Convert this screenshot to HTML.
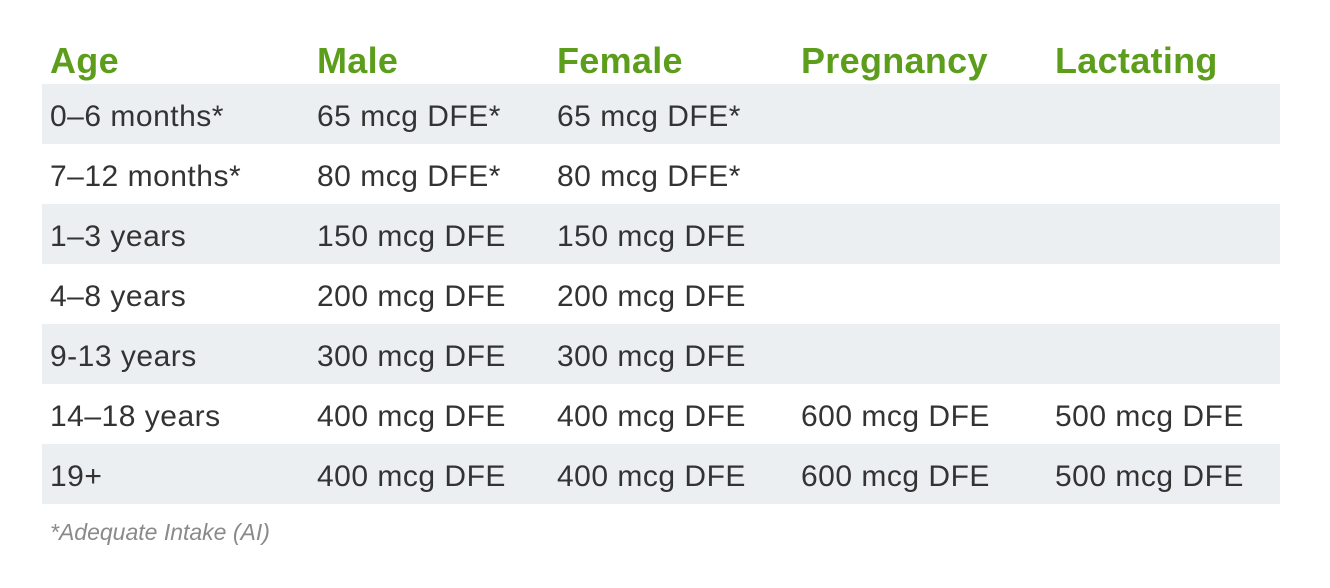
<!DOCTYPE html>
<html><head><meta charset="utf-8"><style>
html,body{margin:0;padding:0;background:#fff;width:1330px;height:588px;overflow:hidden;position:relative;font-family:"Liberation Sans",sans-serif;}
.row{position:absolute;left:42px;width:1238px;height:60px;}
.g{background:#eceff2;}
.t{position:absolute;font-size:30px;color:#333;letter-spacing:0.5px;line-height:1;white-space:nowrap;}
.h{position:absolute;font-size:36px;font-weight:bold;color:#5c9e1c;line-height:1;white-space:nowrap;letter-spacing:0.3px;}
.f{position:absolute;left:50px;top:521px;font-size:23px;font-style:italic;color:#8a8a8a;line-height:1;}
</style></head><body>
<div class="row g" style="top:84px"></div>
<div class="row g" style="top:204px"></div>
<div class="row g" style="top:324px"></div>
<div class="row g" style="top:444px"></div>

<div class="h" style="left:50px;top:43px">Age</div>
<div class="h" style="left:317px;top:43px">Male</div>
<div class="h" style="left:557px;top:43px">Female</div>
<div class="h" style="left:801px;top:43px">Pregnancy</div>
<div class="h" style="left:1055px;top:43px">Lactating</div>

<div class="t" style="left:50px;top:102px">0–6 months*</div>
<div class="t" style="left:317px;top:102px">65 mcg DFE*</div>
<div class="t" style="left:557px;top:102px">65 mcg DFE*</div>

<div class="t" style="left:50px;top:162px">7–12 months*</div>
<div class="t" style="left:317px;top:162px">80 mcg DFE*</div>
<div class="t" style="left:557px;top:162px">80 mcg DFE*</div>

<div class="t" style="left:50px;top:222px">1–3 years</div>
<div class="t" style="left:317px;top:222px">150 mcg DFE</div>
<div class="t" style="left:557px;top:222px">150 mcg DFE</div>

<div class="t" style="left:50px;top:282px">4–8 years</div>
<div class="t" style="left:317px;top:282px">200 mcg DFE</div>
<div class="t" style="left:557px;top:282px">200 mcg DFE</div>

<div class="t" style="left:50px;top:342px">9-13 years</div>
<div class="t" style="left:317px;top:342px">300 mcg DFE</div>
<div class="t" style="left:557px;top:342px">300 mcg DFE</div>

<div class="t" style="left:50px;top:402px">14–18 years</div>
<div class="t" style="left:317px;top:402px">400 mcg DFE</div>
<div class="t" style="left:557px;top:402px">400 mcg DFE</div>
<div class="t" style="left:801px;top:402px">600 mcg DFE</div>
<div class="t" style="left:1055px;top:402px">500 mcg DFE</div>

<div class="t" style="left:50px;top:462px">19+</div>
<div class="t" style="left:317px;top:462px">400 mcg DFE</div>
<div class="t" style="left:557px;top:462px">400 mcg DFE</div>
<div class="t" style="left:801px;top:462px">600 mcg DFE</div>
<div class="t" style="left:1055px;top:462px">500 mcg DFE</div>

<div class="f">*Adequate Intake (AI)</div>
</body></html>
